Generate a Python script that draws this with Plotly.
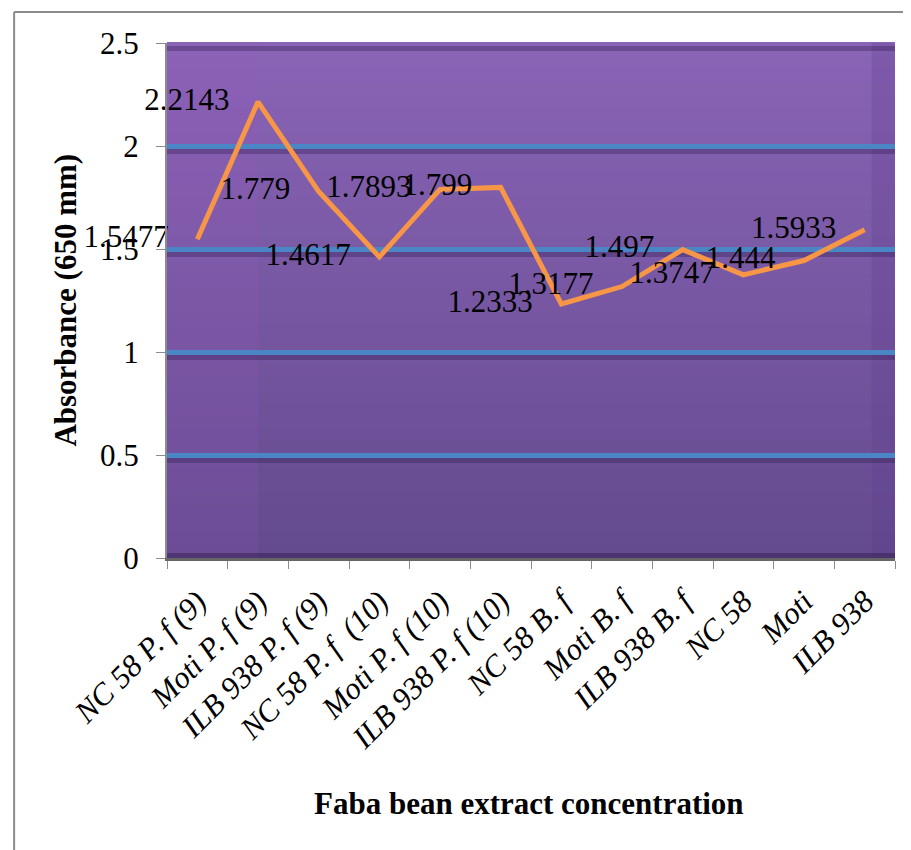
import plotly.graph_objects as go

categories = [
    "NC 58 P. f (9)", "Moti P. f (9)", "ILB 938 P. f (9)", "NC 58 P. f  (10)",
    "Moti P. f (10)", "ILB 938 P. f (10)", "NC 58 B. f", "Moti B. f",
    "ILB 938 B. f", "NC 58", "Moti", "ILB 938",
]
absorbance = [1.5477, 2.2143, 1.779, 1.4617, 1.7893, 1.799,
              1.2333, 1.3177, 1.497, 1.3747, 1.444, 1.5933]
labels = ["1.5477", "2.2143", "1.779", "1.4617", "1.7893", "1.799",
          "1.2333", "1.3177", "1.497", "1.3747", "1.444", "1.5933"]
grid_values = [0.5, 1.0, 1.5, 2.0, 2.5]

SERIF = "Liberation Serif"


def _mix(c0, c1, t):
    return "rgb(%d,%d,%d)" % tuple(round(a + (b - a) * t) for a, b in zip(c0, c1))


fig = go.Figure(go.Scatter(
    x=categories, y=absorbance,
    mode="lines+markers+text",
    line=dict(color="#F79646", width=5),
    marker=dict(size=44, color="rgba(0,0,0,0)"),
    text=labels, textposition="middle left",
    textfont=dict(family=SERIF, size=31, color="black"),
    cliponaxis=False,
    showlegend=False,
))

# purple gradient back wall, drawn as thin bands under the grid
shapes = []
top, bottom = (138, 100, 182), (100, 74, 142)
n = 40
for i in range(n):
    shapes.append(dict(
        type="rect", xref="x domain", yref="y domain",
        x0=0, x1=1, y0=i / n, y1=(i + 1) / n + 0.002,
        fillcolor=_mix(bottom, top, (i + 0.5) / n), line=dict(width=0),
        layer="below",
    ))
# side walls of the 3-D look
shapes.append(dict(type="rect", xref="x domain", yref="y domain",
                   x0=0, x1=0.125, y0=0, y1=1, layer="below",
                   fillcolor="rgba(150,90,190,0.18)", line=dict(width=0)))
shapes.append(dict(type="rect", xref="x domain", yref="y domain",
                   x0=0.968, x1=1, y0=0, y1=1, layer="below",
                   fillcolor="rgba(90,60,140,0.25)", line=dict(width=0)))
# soft shadow under each grid line and along the floor
for v in grid_values:
    shapes.append(dict(type="rect", xref="x domain", yref="y",
                       ysizemode="pixel", yanchor=v, y0=-3, y1=-8,
                       x0=0, x1=1, layer="below",
                       fillcolor="rgba(50,30,80,0.35)", line=dict(width=0)))
shapes.append(dict(type="rect", xref="x domain", yref="y",
                   ysizemode="pixel", yanchor=0, y0=0, y1=5,
                   x0=0, x1=1, layer="below",
                   fillcolor="rgba(50,30,80,0.5)", line=dict(width=0)))
# outer chart frame
shapes.append(dict(type="line", xref="paper", yref="paper",
                   x0=-0.21, x1=1.03, y0=1.06, y1=1.06,
                   line=dict(color="#8c8c8c", width=2)))
shapes.append(dict(type="line", xref="paper", yref="paper",
                   x0=-0.21, x1=-0.21, y0=1.06, y1=-0.6,
                   line=dict(color="#8c8c8c", width=2)))

# page body adds an 8px offset, so margins are trimmed by 8 on left/top
fig.update_layout(
    width=911, height=850,
    margin=dict(l=159, r=24, t=35, b=300),
    paper_bgcolor="white",
    plot_bgcolor="#7a58a4",
    font=dict(family=SERIF, color="black"),
    shapes=shapes,
    xaxis=dict(
        type="category", range=[-0.5, 11.5], tickson="boundaries", automargin=False,
        ticks="outside", ticklen=8, tickcolor="#8c8c8c",
        showline=True, linecolor="#666666", linewidth=3,
        showgrid=False,
        tickangle=-45, ticklabelstandoff=10,
        tickfont=dict(family=SERIF, size=31, style="italic"),
    ),
    yaxis=dict(
        range=[0, 2.5], dtick=0.5, automargin=False,
        ticks="outside", ticklen=9, tickcolor="#8c8c8c",
        showline=True, linecolor="#8c8c8c", linewidth=2,
        gridcolor="#4a86c6", gridwidth=5, zeroline=False,
        ticklabelstandoff=11,
        tickfont=dict(family=SERIF, size=31),
    ),
    annotations=[
        dict(text="<b>Absorbance (650 mm)</b>", xref="paper", yref="paper",
             x=-0.14, y=0.5, xanchor="center", yanchor="middle",
             textangle=-90, showarrow=False,
             font=dict(family=SERIF, size=31)),
        dict(text="<b>Faba bean extract concentration</b>", xref="paper", yref="paper",
             x=0.497, y=-0.476, xanchor="center", yanchor="middle",
             showarrow=False, font=dict(family=SERIF, size=31)),
    ],
)

fig.write_html("out.html")
